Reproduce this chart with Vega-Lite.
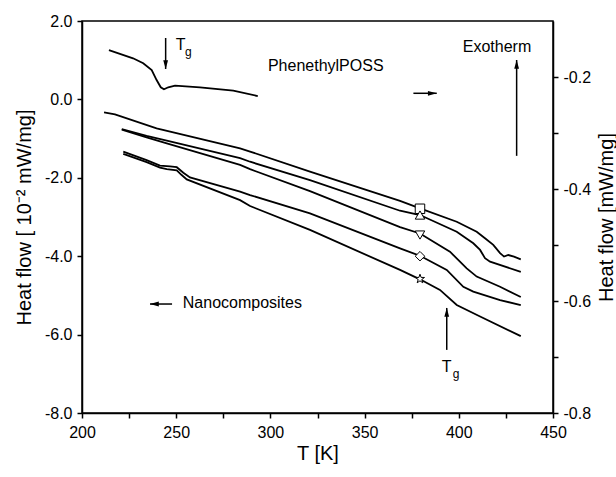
{
  "$schema": "https://vega.github.io/schema/vega-lite/v6.json",
  "width": 471,
  "height": 392,
  "autosize": {"type": "none"},
  "padding": {"left": 82, "top": 21, "right": 63, "bottom": 64},
  "background": "white",
  "config": {
    "font": "Liberation Sans",
    "view": {"stroke": "black", "strokeWidth": 1.5},
    "axis": {
      "grid": false,
      "domainColor": "black",
      "domainWidth": 1.5,
      "tickColor": "black",
      "tickWidth": 1.5,
      "tickSize": 5,
      "labelColor": "black",
      "labelFont": "Liberation Sans",
      "labelFontSize": 16,
      "labelPadding": 5,
      "labelFlush": false,
      "labelOverlap": false,
      "titleColor": "black",
      "titleFont": "Liberation Sans",
      "titleFontSize": 20,
      "titleFontWeight": "normal"
    }
  },
  "datasets": {
    "curves": [
      {"series": "A", "T": 211.7, "H": -0.33},
      {"series": "A", "T": 217.5, "H": -0.38},
      {"series": "A", "T": 239.6, "H": -0.74},
      {"series": "A", "T": 283.9, "H": -1.25},
      {"series": "A", "T": 289.2, "H": -1.33},
      {"series": "A", "T": 321.0, "H": -1.84},
      {"series": "A", "T": 368.8, "H": -2.59},
      {"series": "A", "T": 379.4, "H": -2.78},
      {"series": "A", "T": 398.9, "H": -3.12},
      {"series": "A", "T": 409.5, "H": -3.375},
      {"series": "A", "T": 413.9, "H": -3.54},
      {"series": "A", "T": 418.3, "H": -3.71},
      {"series": "A", "T": 421.9, "H": -3.92},
      {"series": "A", "T": 424.0, "H": -4.01},
      {"series": "A", "T": 426.3, "H": -3.97},
      {"series": "A", "T": 429.3, "H": -4.01},
      {"series": "A", "T": 432.9, "H": -4.08},
      {"series": "B", "T": 221.1, "H": -0.755},
      {"series": "B", "T": 234.3, "H": -0.93},
      {"series": "B", "T": 245.0, "H": -1.05},
      {"series": "B", "T": 283.9, "H": -1.50},
      {"series": "B", "T": 289.2, "H": -1.59},
      {"series": "B", "T": 321.0, "H": -2.06},
      {"series": "B", "T": 368.8, "H": -2.84},
      {"series": "B", "T": 379.4, "H": -2.95},
      {"series": "B", "T": 398.9, "H": -3.375},
      {"series": "B", "T": 407.7, "H": -3.67},
      {"series": "B", "T": 411.3, "H": -3.84},
      {"series": "B", "T": 413.9, "H": -4.05},
      {"series": "B", "T": 416.6, "H": -4.14},
      {"series": "B", "T": 432.9, "H": -4.40},
      {"series": "C", "T": 221.1, "H": -0.77},
      {"series": "C", "T": 234.3, "H": -0.97},
      {"series": "C", "T": 245.0, "H": -1.12},
      {"series": "C", "T": 283.9, "H": -1.67},
      {"series": "C", "T": 289.2, "H": -1.78},
      {"series": "C", "T": 321.0, "H": -2.34},
      {"series": "C", "T": 368.8, "H": -3.26},
      {"series": "C", "T": 379.4, "H": -3.42},
      {"series": "C", "T": 395.3, "H": -3.885},
      {"series": "C", "T": 404.2, "H": -4.31},
      {"series": "C", "T": 409.5, "H": -4.52},
      {"series": "C", "T": 421.9, "H": -4.78},
      {"series": "C", "T": 432.9, "H": -5.04},
      {"series": "D", "T": 221.9, "H": -1.33},
      {"series": "D", "T": 234.3, "H": -1.55},
      {"series": "D", "T": 241.4, "H": -1.69},
      {"series": "D", "T": 246.7, "H": -1.71},
      {"series": "D", "T": 250.3, "H": -1.73},
      {"series": "D", "T": 253.8, "H": -1.87},
      {"series": "D", "T": 257.3, "H": -1.99},
      {"series": "D", "T": 283.9, "H": -2.355},
      {"series": "D", "T": 289.2, "H": -2.44},
      {"series": "D", "T": 321.0, "H": -2.91},
      {"series": "D", "T": 368.8, "H": -3.80},
      {"series": "D", "T": 379.4, "H": -3.99},
      {"series": "D", "T": 393.6, "H": -4.35},
      {"series": "D", "T": 402.4, "H": -4.78},
      {"series": "D", "T": 407.7, "H": -4.905},
      {"series": "D", "T": 421.9, "H": -5.12},
      {"series": "D", "T": 432.9, "H": -5.245},
      {"series": "E", "T": 221.9, "H": -1.39},
      {"series": "E", "T": 234.3, "H": -1.60},
      {"series": "E", "T": 241.4, "H": -1.74},
      {"series": "E", "T": 245.0, "H": -1.78},
      {"series": "E", "T": 250.3, "H": -1.81},
      {"series": "E", "T": 252.9, "H": -1.93},
      {"series": "E", "T": 255.6, "H": -2.04},
      {"series": "E", "T": 283.9, "H": -2.57},
      {"series": "E", "T": 289.2, "H": -2.72},
      {"series": "E", "T": 321.0, "H": -3.33},
      {"series": "E", "T": 368.8, "H": -4.35},
      {"series": "E", "T": 379.4, "H": -4.59},
      {"series": "E", "T": 390.0, "H": -4.86},
      {"series": "E", "T": 398.9, "H": -5.245},
      {"series": "E", "T": 411.3, "H": -5.54},
      {"series": "E", "T": 432.9, "H": -6.04}
    ],
    "markers": [
      {"series": "A", "T": 379.4, "H": -2.79},
      {"series": "B", "T": 379.4, "H": -2.95},
      {"series": "C", "T": 379.4, "H": -3.46},
      {"series": "D", "T": 379.4, "H": -4.0},
      {"series": "E", "T": 379.4, "H": -4.58}
    ],
    "poss": [
      {"T": 214.3, "R": -0.152},
      {"T": 227.1, "R": -0.1666},
      {"T": 232.5, "R": -0.1755},
      {"T": 237.0, "R": -0.1875},
      {"T": 239.6, "R": -0.2054},
      {"T": 241.8, "R": -0.2184},
      {"T": 243.5, "R": -0.222},
      {"T": 245.8, "R": -0.2184},
      {"T": 249.4, "R": -0.2155},
      {"T": 262.6, "R": -0.2184},
      {"T": 280.3, "R": -0.2245},
      {"T": 293.3, "R": -0.234}
    ],
    "arrows": [
      {"T": 244.4, "H": 1.566, "T2": 244.4, "H2": 0.776, "dir": "down"},
      {"T": 375.9, "H": 0.156, "T2": 388.3, "H2": 0.156, "dir": "right"},
      {"T": 430.7, "H": -1.44, "T2": 430.7, "H2": 1.005, "dir": "up"},
      {"T": 247.8, "H": -5.22, "T2": 236.1, "H2": -5.22, "dir": "left"},
      {"T": 393.6, "H": -6.39, "T2": 393.6, "H2": -5.32, "dir": "up"}
    ],
    "labels": [
      {"text": "T", "T": 249.7, "H": 1.26},
      {"text": "PhenethylPOSS", "T": 298.7, "H": 0.724},
      {"text": "Exotherm", "T": 402.1, "H": 1.22},
      {"text": "Nanocomposites", "T": 253.5, "H": -5.32},
      {"text": "T", "T": 390.9, "H": -6.95}
    ],
    "subs": [
      {"text": "g", "T": 254.7, "H": 1.107},
      {"text": "g", "T": 396.8, "H": -7.11}
    ]
  },
  "layer": [
    {
      "layer": [
        {
          "data": {"name": "curves"},
          "mark": {"type": "line", "color": "black", "strokeWidth": 1.8},
          "encoding": {
            "x": {
              "field": "T", "type": "quantitative",
              "scale": {"domain": [200, 450], "nice": false, "zero": false},
              "axis": {
                "title": "T [K]",
                "values": [200, 225, 250, 275, 300, 325, 350, 375, 400, 425, 450],
                "labelExpr": "datum.value % 50 == 0 ? format(datum.value, 'd') : ''",
                "labelPadding": 6,
                "titlePadding": 3
              }
            },
            "y": {
              "field": "H", "type": "quantitative",
              "scale": {"domain": [-8, 2], "nice": false, "zero": false},
              "axis": {
                "title": "Heat flow [ 10⁻² mW/mg]",
                "values": [-8, -7, -6, -5, -4, -3, -2, -1, 0, 1, 2],
                "labelExpr": "abs(datum.value % 2) < 0.01 ? replace(format(datum.value, '.1f'), '−', '-') : ''",
                "titlePadding": 10
              }
            },
            "detail": {"field": "series"}
          }
        },
        {
          "data": {"name": "markers"},
          "mark": {"type": "point", "filled": true, "fill": "white", "stroke": "black", "strokeWidth": 1, "opacity": 1, "size": 90},
          "encoding": {
            "x": {"field": "T", "type": "quantitative"},
            "y": {"field": "H", "type": "quantitative"},
            "shape": {
              "field": "series", "type": "nominal", "legend": null,
              "scale": {
                "domain": ["A", "B", "C", "D", "E"],
                "range": ["square", "triangle-up", "triangle-down", "diamond", "M0,-1L0.235,-0.324L0.951,-0.309L0.380,0.124L0.588,0.809L0,0.4L-0.588,0.809L-0.380,0.124L-0.951,-0.309L-0.235,-0.324Z"]
              }
            }
          }
        },
        {
          "data": {"name": "arrows"},
          "mark": {"type": "rule", "color": "black", "strokeWidth": 1.5},
          "encoding": {
            "x": {"field": "T", "type": "quantitative"},
            "y": {"field": "H", "type": "quantitative"},
            "x2": {"field": "T2"},
            "y2": {"field": "H2"}
          }
        },
        {
          "data": {"name": "arrows"},
          "mark": {"type": "point", "filled": true, "color": "black", "opacity": 1, "size": 64, "strokeWidth": 0},
          "encoding": {
            "x": {"field": "T2", "type": "quantitative"},
            "y": {"field": "H2", "type": "quantitative"},
            "shape": {
              "field": "dir", "type": "nominal", "legend": null,
              "scale": {
                "domain": ["up", "down", "left", "right"],
                "range": ["M0,0L-0.6,2.2L0.6,2.2Z", "M0,0L-0.6,-2.2L0.6,-2.2Z", "M0,0L2.2,-0.6L2.2,0.6Z", "M0,0L-2.2,-0.6L-2.2,0.6Z"]
              }
            }
          }
        },
        {
          "data": {"name": "labels"},
          "mark": {"type": "text", "align": "left", "baseline": "alphabetic", "fontSize": 16, "color": "black", "font": "Liberation Sans"},
          "encoding": {
            "x": {"field": "T", "type": "quantitative"},
            "y": {"field": "H", "type": "quantitative"},
            "text": {"field": "text"}
          }
        },
        {
          "data": {"name": "subs"},
          "mark": {"type": "text", "align": "left", "baseline": "alphabetic", "fontSize": 12, "color": "black", "font": "Liberation Sans"},
          "encoding": {
            "x": {"field": "T", "type": "quantitative"},
            "y": {"field": "H", "type": "quantitative"},
            "text": {"field": "text"}
          }
        }
      ],
      "resolve": {"scale": {"shape": "independent"}}
    },
    {
      "data": {"name": "poss"},
      "mark": {"type": "line", "color": "black", "strokeWidth": 1.8},
      "encoding": {
        "x": {"field": "T", "type": "quantitative"},
        "y": {
          "field": "R", "type": "quantitative",
          "scale": {"domain": [-0.8, -0.1], "nice": false, "zero": false},
          "axis": {
            "orient": "right",
            "title": "Heat flow [mW/mg]",
            "titleAngle": 270,
            "values": [-0.8, -0.7, -0.6, -0.5, -0.4, -0.3, -0.2],
            "labelExpr": "abs(round(datum.value * 10)) % 2 == 0 ? replace(format(datum.value, '.1f'), '−', '-') : ''",
            "titlePadding": 26
          }
        }
      }
    }
  ],
  "resolve": {"scale": {"y": "independent"}}
}
